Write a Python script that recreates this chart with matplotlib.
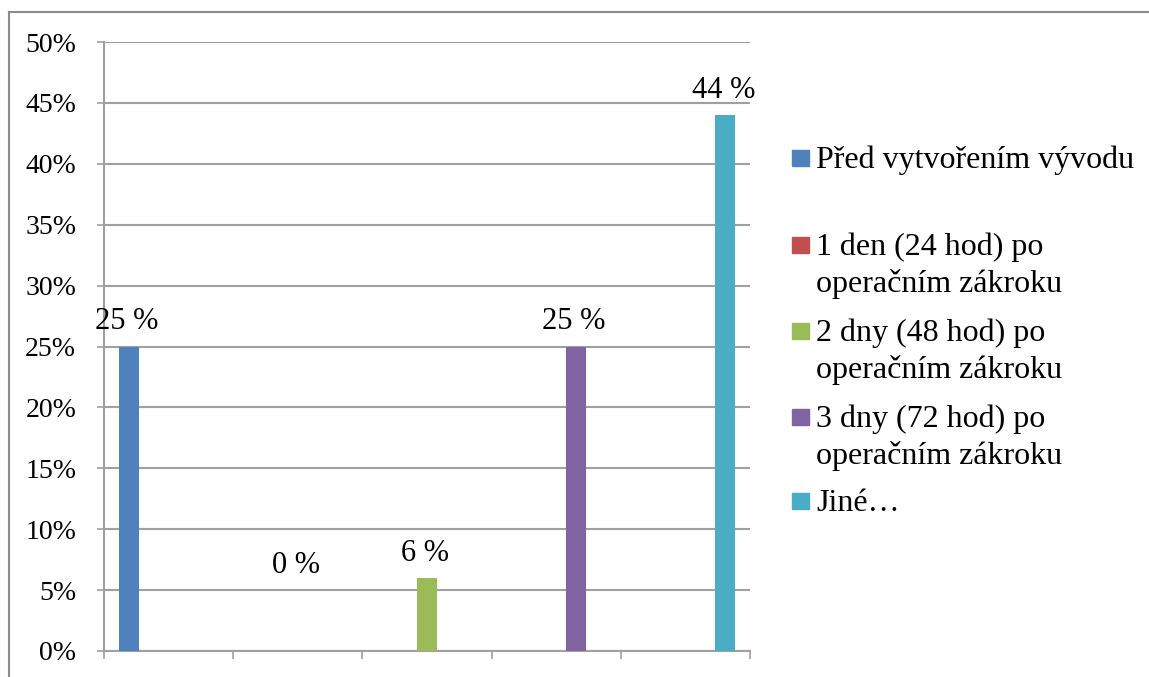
import matplotlib
matplotlib.use("Agg")
import matplotlib.pyplot as plt
from matplotlib.lines import Line2D
from matplotlib.patches import Rectangle

series_names = ["Před vytvořením vývodu",
                "1 den (24 hod) po\noperačním zákroku",
                "2 dny (48 hod) po\noperačním zákroku",
                "3 dny (72 hod) po\noperačním zákroku",
                "Jiné…"]
values = [25, 0, 6, 25, 44]
value_labels = ["25 %", "0 %", "6 %", "25 %", "44 %"]
colors = ["#4F81BD", "#C0504D", "#9BBB59", "#8064A2", "#4BACC6"]
yticks = [0, 5, 10, 15, 20, 25, 30, 35, 40, 45, 50]
ytick_labels = [f"{v}%" for v in yticks]

plt.rcParams['font.family'] = ['Liberation Serif', 'DejaVu Serif']
W, H = 1149, 677
fig = plt.figure(figsize=(W / 100, H / 100), dpi=100)
ax = fig.add_axes([104 / W, 1 - 651 / H, (750 - 104) / W, (651 - 42) / H])

n = len(values)
w = 20 / 129.2
for j, (v, c) in enumerate(zip(values, colors)):
    x = j + 0.5 + (j - 2) * w
    ax.bar(x, v, width=w, color=c, zorder=3)
    if v == 0:
        off = (13, 56)
    else:
        off = (-1.5, 12.5)
    ax.annotate(value_labels[j], (x, v), xytext=off, textcoords="offset points",
                ha="center", va="baseline", fontsize=22, color="black")

ax.set_xlim(0, n)
ax.set_ylim(0, 50)
ax.set_yticks(yticks)
ax.set_yticklabels(ytick_labels, fontsize=20)
ax.set_xticks(range(n + 1))
ax.set_xticklabels([])
gray = "#A0A0A0"
ax.yaxis.grid(True, color=gray, linewidth=1.5, zorder=0)
ax.tick_params(axis="y", length=5, width=1.2, color=gray, pad=15)
ax.tick_params(axis="x", length=6, width=1.2, color=gray)
for s in ["top", "right"]:
    ax.spines[s].set_visible(False)
for s in ["left", "bottom"]:
    ax.spines[s].set_color(gray)
    ax.spines[s].set_linewidth(1.5)

# legend (manual): baselines of first line of each entry, px from top
leg_base = [168, 255, 341, 427, 511]
line_gap = 37
for name, c, yb in zip(series_names, colors, leg_base):
    fig.add_artist(Rectangle((792 / W, 1 - (yb - 2) / H), 17 / W, 16 / H,
                             transform=fig.transFigure, color=c))
    for k, line in enumerate(name.split("\n")):
        fig.text(816 / W, 1 - (yb + k * line_gap) / H, line, fontsize=23,
                 va="baseline", ha="left")

# outer border
fig.add_artist(Line2D([9 / W, 9 / W], [0, 1 - 12 / H], transform=fig.transFigure,
                      color="#8C8C8C", linewidth=1.5))
fig.add_artist(Line2D([9 / W, 1], [1 - 12 / H, 1 - 12 / H], transform=fig.transFigure,
                      color="#8C8C8C", linewidth=1.5))

fig.savefig("out.png", dpi=100)
